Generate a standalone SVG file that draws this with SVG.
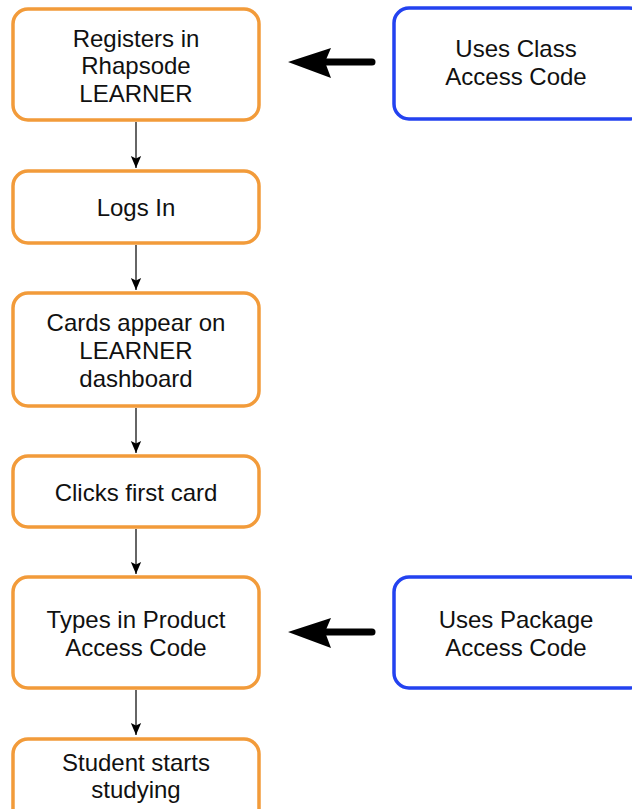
<svg xmlns="http://www.w3.org/2000/svg" width="632" height="809" viewBox="0 0 632 809">
  <style>
    .o { fill: #ffffff; stroke: #F29B3A; stroke-width: 3.5; }
    .b { fill: #ffffff; stroke: #2342F0; stroke-width: 3.5; }
    text { font-family: "Liberation Sans", Arial, Helvetica, sans-serif; font-size: 24px; fill: #111111; text-anchor: middle; }
    .thin { stroke: #333333; stroke-width: 1.5; fill: none; }
    .thick { stroke: #000000; stroke-width: 7; stroke-linecap: round; fill: none; }
  </style>
  <defs>
    <marker id="ah" markerUnits="userSpaceOnUse" markerWidth="12" markerHeight="16" refX="14" refY="6" orient="auto" viewBox="0 0 14 12">
      <path d="M0,0 L14,6 L0,12 L3,6 Z" fill="#000000"/>
    </marker>
  </defs>
  <rect width="632" height="809" fill="#ffffff"/>

  <g id="connectors">
    <line class="thin" x1="136" y1="122" x2="136" y2="168" marker-end="url(#ah)"/>
    <line class="thin" x1="136" y1="245" x2="136" y2="290" marker-end="url(#ah)"/>
    <line class="thin" x1="136" y1="408" x2="136" y2="453" marker-end="url(#ah)"/>
    <line class="thin" x1="136" y1="529" x2="136" y2="574" marker-end="url(#ah)"/>
    <line class="thin" x1="136" y1="690" x2="136" y2="735" marker-end="url(#ah)"/>
    <g id="thick1">
      <line class="thick" x1="372" y1="62" x2="325" y2="62"/>
      <path d="M288,62 L331,48 L325,62 L331,78 Z" fill="#000000"/>
    </g>
    <g id="thick2">
      <line class="thick" x1="372" y1="632" x2="325" y2="632"/>
      <path d="M288,632 L331,618 L325,632 L331,648 Z" fill="#000000"/>
    </g>
  </g>

  <g id="n1">
    <rect class="o" x="13" y="9" width="246" height="111" rx="15"/>
    <text x="136" y="46.5">Registers in</text>
    <text x="136" y="74">Rhapsode</text>
    <text x="136" y="101.5">LEARNER</text>
  </g>
  <g id="n2">
    <rect class="o" x="13" y="171" width="246" height="72" rx="15"/>
    <text x="136" y="216">Logs In</text>
  </g>
  <g id="n3">
    <rect class="o" x="13" y="293" width="246" height="113" rx="15"/>
    <text x="136" y="331">Cards appear on</text>
    <text x="136" y="359">LEARNER</text>
    <text x="136" y="387">dashboard</text>
  </g>
  <g id="n4">
    <rect class="o" x="13" y="456" width="246" height="71" rx="15"/>
    <text x="136" y="501">Clicks first card</text>
  </g>
  <g id="n5">
    <rect class="o" x="13" y="577" width="246" height="111" rx="15"/>
    <text x="136" y="628">Types in Product</text>
    <text x="136" y="656">Access Code</text>
  </g>
  <g id="n6">
    <rect class="o" x="13" y="739" width="246" height="90" rx="15"/>
    <text x="136" y="771">Student starts</text>
    <text x="136" y="798">studying</text>
  </g>
  <g id="b1">
    <rect class="b" x="394" y="8" width="250" height="111" rx="15"/>
    <text x="516" y="57">Uses Class</text>
    <text x="516" y="85">Access Code</text>
  </g>
  <g id="b2">
    <rect class="b" x="394" y="577" width="250" height="111" rx="15"/>
    <text x="516" y="628">Uses Package</text>
    <text x="516" y="656">Access Code</text>
  </g>
</svg>
